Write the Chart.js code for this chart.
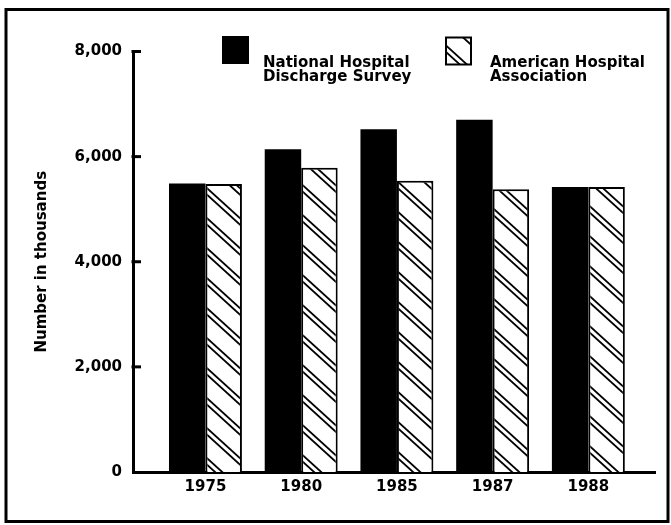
<!DOCTYPE html>
<html><head><meta charset="utf-8">
<script src="https://cdn.jsdelivr.net/npm/chart.js@4"></script>
<style>html,body{margin:0;padding:0;background:#fff;}</style>
</head><body>
<canvas id="c" width="671" height="525"></canvas>
<script>
// ---- data ----
const years = ['1975', '1980', '1985', '1987', '1988'];
const nhdsValues = [5490, 6140, 6520, 6700, 5420];
const ahaValues = [5480, 5790, 5540, 5380, 5420];
const yTickValues = [0, 2000, 4000, 6000, 8000];
const seriesNames = ['National Hospital Discharge Survey', 'American Hospital Association'];
const legendLines = [['National Hospital', 'Discharge Survey'], ['American Hospital', 'Association']];
const yTitle = 'Number in thousands';

const FONT = {family: "'DejaVu Sans', sans-serif", size: 15, weight: 'bold'};
const FONT_CSS = "bold 15px 'DejaVu Sans', sans-serif";

function makeHatch() {
  const W = 33, H = 30;
  const c = document.createElement('canvas');
  c.width = W; c.height = H;
  const g = c.getContext('2d');
  g.fillStyle = '#fff'; g.fillRect(0, 0, W, H);
  g.strokeStyle = '#000'; g.lineWidth = 1.8;
  for (const off of [-H, 0, H]) {
    for (const d of [0, 6.5]) {
      g.beginPath();
      g.moveTo(-1, off + d - H / W);
      g.lineTo(W + 1, off + d + H + H / W);
      g.stroke();
    }
  }
  return g.createPattern(c, 'repeat');
}
const hatch = makeHatch();

const framePlugin = {
  id: 'frame',
  beforeDraw(chart) {
    const ctx = chart.ctx;
    ctx.save();
    ctx.fillStyle = '#fff';
    ctx.fillRect(0, 0, chart.width, chart.height);
    ctx.strokeStyle = '#000';
    ctx.lineWidth = 3;
    ctx.strokeRect(6, 9.5, 662, 512);
    ctx.restore();
  },
  afterDraw(chart) {
    const ctx = chart.ctx;
    const y = chart.scales.y;
    ctx.save();
    ctx.strokeStyle = '#000';
    ctx.lineWidth = 3;
    yTickValues.forEach(v => {
      if (v === 0) return;
      const py = y.getPixelForValue(v);
      ctx.beginPath();
      ctx.moveTo(y.right - 1.5, py);
      ctx.lineTo(y.right + 8, py);
      ctx.stroke();
    });
    const items = [
      {box: [222, 36, 27, 28], fill: '#000', border: false, tx: 263},
      {box: [446, 37.5, 25, 27], fill: hatch, border: true, tx: 490}
    ];
    ctx.font = FONT_CSS;
    ctx.textBaseline = 'alphabetic';
    ctx.textAlign = 'left';
    items.forEach((it, i) => {
      const [bx, by, bw, bh] = it.box;
      ctx.fillStyle = it.fill;
      ctx.fillRect(bx, by, bw, bh);
      if (it.border) {
        ctx.lineWidth = 2;
        ctx.strokeStyle = '#000';
        ctx.strokeRect(bx, by, bw, bh);
      }
      ctx.fillStyle = '#000';
      legendLines[i].forEach((t, k) => ctx.fillText(t, it.tx, 67 + k * 14));
    });
    ctx.restore();
  }
};

new Chart(document.getElementById('c'), {
  type: 'bar',
  data: {
    datasets: [
      {
        label: seriesNames[0],
        data: years.map((yr, i) => ({x: i, y: nhdsValues[i]})),
        backgroundColor: '#000',
        borderWidth: 0,
        categoryPercentage: 0.762,
        barPercentage: 1.0
      },
      {
        label: seriesNames[1],
        data: years.map((yr, i) => ({x: i, y: ahaValues[i]})),
        backgroundColor: hatch,
        borderColor: '#000',
        borderWidth: 2,
        categoryPercentage: 0.762,
        barPercentage: 1.0
      }
    ]
  },
  options: {
    responsive: false,
    animation: false,
    layout: {padding: {left: 0, right: 16, top: 51.5, bottom: 0}},
    plugins: {legend: {display: false}, tooltip: {enabled: false}},
    scales: {
      x: {
        type: 'linear',
        offset: false,
        min: -0.757,
        max: 4.696,
        afterBuildTicks: s => { s.ticks = years.map((yr, i) => ({value: i})); },
        ticks: {
          callback: v => years[v],
          font: FONT, color: '#000', padding: 6,
          maxRotation: 0, autoSkip: false
        },
        grid: {display: false, drawTicks: false, offset: false},
        border: {display: true, color: '#000', width: 3},
        afterFit: s => { s.height = 53; }
      },
      y: {
        min: 0,
        max: 8000,
        afterBuildTicks: s => { s.ticks = yTickValues.map(v => ({value: v})); },
        ticks: {
          callback: v => v.toLocaleString('en-US'),
          font: FONT, color: '#000', padding: 11
        },
        grid: {display: false, drawTicks: false},
        border: {display: true, color: '#000', width: 3},
        title: {display: true, text: yTitle, font: FONT, color: '#000', padding: {top: 33.5, bottom: 0}},
        afterFit: s => { s.width = 133; }
      }
    }
  },
  plugins: [framePlugin]
});
</script>
</body></html>
